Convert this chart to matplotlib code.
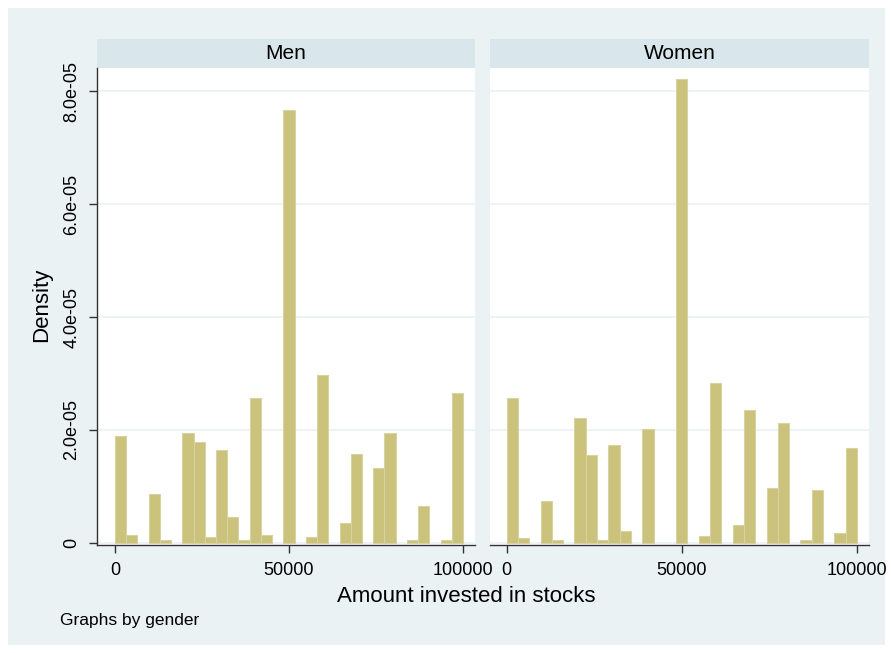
import matplotlib
matplotlib.use("Agg")
import matplotlib.pyplot as plt
from matplotlib.patches import Rectangle
import numpy as np

plt.rcParams['font.family'] = ['Liberation Sans', 'DejaVu Sans']

# Histogram densities (units of 1e-5) for 31 equal-width bins on [0, 100000]
panels = ["Men", "Women"]
men_density = [1.89, 0.15, 0.0, 0.86, 0.047, 0.0, 1.95, 1.79, 0.10, 1.64, 0.46,
               0.047, 2.56, 0.15, 0.0, 7.66, 0.0, 0.10, 2.97, 0.0, 0.36, 1.58,
               0.0, 1.33, 1.95, 0.0, 0.047, 0.66, 0.0, 0.047, 2.66]
women_density = [2.57, 0.094, 0.0, 0.75, 0.047, 0.0, 2.22, 1.55, 0.047, 1.73, 0.22,
                 0.0, 2.01, 0.0, 0.0, 8.21, 0.0, 0.13, 2.84, 0.0, 0.31, 2.35,
                 0.0, 0.98, 2.13, 0.0, 0.047, 0.93, 0.0, 0.18, 1.69]
x_min, x_max, n_bins = 0, 100000, 31
x_ticks = [0, 50000, 100000]
x_ticklabels = ["0", "50000", "100000"]
y_ticks = [0, 2e-5, 4e-5, 6e-5, 8e-5]
y_ticklabels = ["0", "2.0e-05", "4.0e-05", "6.0e-05", "8.0e-05"]

W, H = 891, 653
fig = plt.figure(figsize=(W / 100, H / 100), dpi=100)
fig.patch.set_facecolor("white")

bg = "#EAF2F3"
strip_c = "#D9E6EB"
bar_face = "#CBC27C"
bar_edge = "#D8D3A2"
axis_c = "#333333"

def fx(px):
    return px / W

def fy(py):
    return 1 - py / H

bgax = fig.add_axes([0, 0, 1, 1], zorder=-10)
bgax.set_xlim(0, 1)
bgax.set_ylim(0, 1)
bgax.axis("off")
bgax.add_patch(Rectangle((fx(8), fy(645)), fx(885 - 8), (645 - 8) / H,
                         facecolor=bg, edgecolor="none"))

panel_px = [(97, 475), (490, 869)]
top_px, bot_px = 68, 545
strip_top = 39

edges = np.linspace(x_min, x_max, n_bins + 1)
width = edges[1] - edges[0]
data = [men_density, women_density]

px_per_unit = 56.5  # pixels per 1e-5
zero_py = 543
ylim_top = (zero_py - top_px) / px_per_unit * 1e-5
ylim_bot = -(bot_px - zero_py) / px_per_unit * 1e-5

for i, (name, dens) in enumerate(zip(panels, data)):
    l, r = panel_px[i]
    ax = fig.add_axes([fx(l), fy(bot_px), fx(r - l), (bot_px - top_px) / H])
    ax.set_facecolor("white")
    vals = np.array(dens) * 1e-5
    nz = vals > 0
    ax.bar(edges[:-1][nz], vals[nz], width=width, align="edge", color=bar_face,
           edgecolor=bar_edge, linewidth=0.8, zorder=3)
    if i == 0:
        ax.set_xlim(-5170, 103450)
    else:
        ax.set_xlim(-4760, 103440)
    ax.set_ylim(ylim_bot, ylim_top)
    ax.set_yticks(y_ticks)
    ax.yaxis.grid(True, color=bg, linewidth=1.2, zorder=0)
    ax.set_axisbelow(True)
    for s in ["top", "right"]:
        ax.spines[s].set_visible(False)
    ax.spines["bottom"].set_color(axis_c)
    ax.spines["bottom"].set_linewidth(1.0)
    ax.set_xticks(x_ticks)
    ax.set_xticklabels(x_ticklabels, fontsize=13)
    ax.tick_params(axis="x", direction="out", length=6, width=1, color=axis_c, pad=6)
    if i == 0:
        ax.spines["left"].set_color(axis_c)
        ax.spines["left"].set_linewidth(1.0)
        ax.set_yticklabels(y_ticklabels, fontsize=13, rotation=90, va="center")
        ax.tick_params(axis="y", direction="out", length=6, width=1, color=axis_c, pad=6)
    else:
        ax.spines["left"].set_visible(False)
        ax.tick_params(axis="y", length=0, labelleft=False)
    # strip
    bgax.add_patch(Rectangle((fx(l), fy(top_px)), fx(r - l), (top_px - strip_top) / H,
                             facecolor=strip_c, edgecolor="none"))
    fig.text(fx((l + r) / 2), fy((strip_top + top_px) / 2), name, ha="center",
             va="center", fontsize=15, color="black")

fig.text(fx(466), fy(597), "Amount invested in stocks", ha="center", va="center",
         fontsize=16, color="black")
fig.text(fx(42), fy(305), "Density", ha="center", va="center", rotation=90,
         fontsize=16, color="black")
fig.text(fx(60), fy(620), "Graphs by gender", ha="left", va="center",
         fontsize=12.5, color="black")

fig.savefig("out.png", dpi=100)
